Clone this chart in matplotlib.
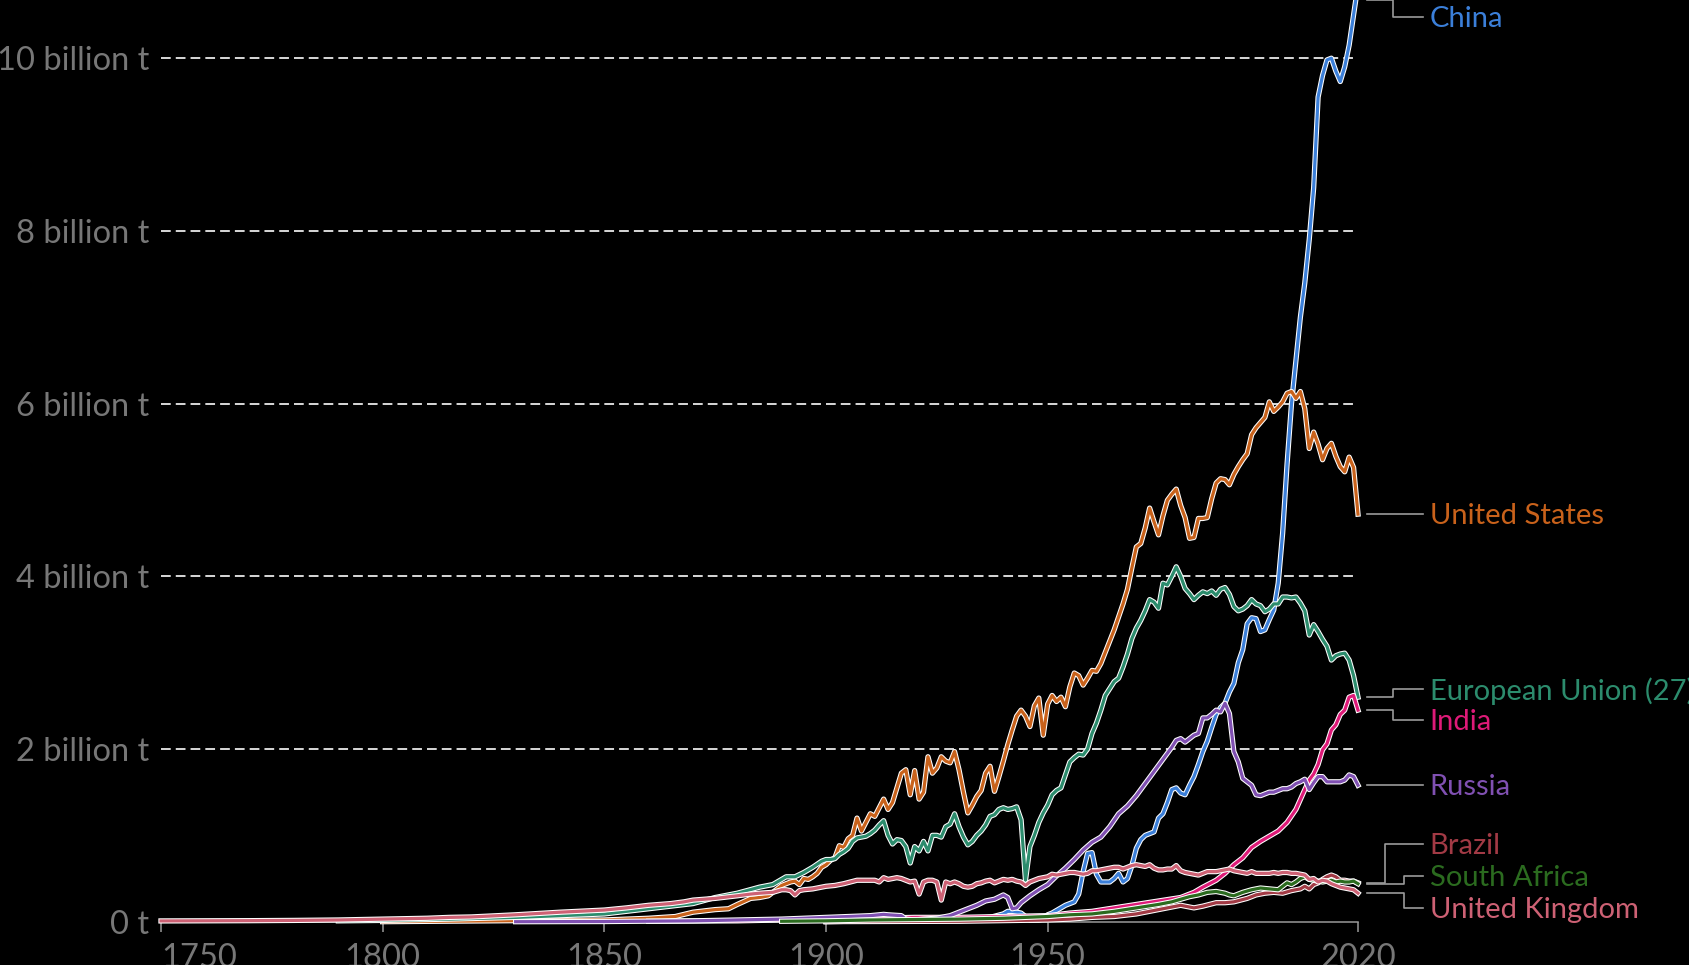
import matplotlib
matplotlib.use("Agg")
import matplotlib.pyplot as plt
import matplotlib.patheffects as pe

plt.rcParams['font.family'] = ['Lato', 'DejaVu Sans']

# annual CO2 emissions, billion tonnes
china_years = [1900, 1910, 1920, 1930, 1937, 1940, 1941, 1942, 1943, 1944, 1945, 1946, 1947, 1948, 1949,
               1950, 1951, 1952, 1953, 1954, 1955, 1956, 1957, 1958, 1959, 1960, 1961, 1962, 1963, 1964,
               1965, 1966, 1967, 1968, 1969, 1970, 1971, 1972, 1973, 1974, 1975, 1976, 1977, 1978, 1979,
               1980, 1981, 1982, 1983, 1984, 1985, 1986, 1987, 1988, 1989, 1990, 1991, 1992, 1993, 1994,
               1995, 1996, 1997, 1998, 1999, 2000, 2001, 2002, 2003, 2004, 2005, 2006, 2007, 2008, 2009,
               2010, 2011, 2012, 2013, 2014, 2015, 2016, 2017, 2018, 2019, 2020]
china = [0.0, 0.01, 0.02, 0.03, 0.05, 0.09, 0.12, 0.12, 0.11, 0.10, 0.06, 0.02, 0.02, 0.02, 0.03,
         0.08, 0.10, 0.13, 0.16, 0.19, 0.21, 0.23, 0.32, 0.58, 0.79, 0.80, 0.55, 0.46, 0.46, 0.46,
         0.50, 0.56, 0.46, 0.50, 0.65, 0.85, 0.95, 1.00, 1.02, 1.04, 1.20, 1.25, 1.38, 1.53, 1.55,
         1.49, 1.47, 1.58, 1.68, 1.82, 1.97, 2.09, 2.25, 2.40, 2.48, 2.53, 2.66, 2.76, 3.00, 3.15,
         3.45, 3.52, 3.51, 3.36, 3.38, 3.50, 3.61, 3.92, 4.50, 5.30, 6.00, 6.50, 7.00, 7.40, 7.90,
         8.50, 9.55, 9.80, 9.98, 10.00, 9.85, 9.73, 9.90, 10.15, 10.50, 10.85]

us_years = [1800, 1850, 1860, 1866, 1870, 1875, 1878, 1880, 1883, 1885, 1887, 1890, 1892, 1893, 1894,
            1895, 1896, 1897, 1898, 1899, 1900, 1901, 1902, 1903, 1904, 1905, 1906, 1907, 1908, 1909,
            1910, 1911, 1912, 1913, 1914, 1915, 1916, 1917, 1918, 1919, 1920, 1921, 1922, 1923, 1924,
            1925, 1926, 1927, 1928, 1929, 1930, 1931, 1932, 1933, 1934, 1935, 1936, 1937, 1938, 1939,
            1940, 1941, 1942, 1943, 1944, 1945, 1946, 1947, 1948, 1949, 1950, 1951, 1952, 1953, 1954,
            1955, 1956, 1957, 1958, 1959, 1960, 1961, 1962, 1963, 1964, 1965, 1966, 1967, 1968, 1969,
            1970, 1971, 1972, 1973, 1974, 1975, 1976, 1977, 1978, 1979, 1980, 1981, 1982, 1983, 1984,
            1985, 1986, 1987, 1988, 1989, 1990, 1991, 1992, 1993, 1994, 1995, 1996, 1997, 1998, 1999,
            2000, 2001, 2002, 2003, 2004, 2005, 2006, 2007, 2008, 2009, 2010, 2011, 2012, 2013, 2014,
            2015, 2016, 2017, 2018, 2019, 2020]
us = [0.0002, 0.02, 0.04, 0.06, 0.11, 0.14, 0.15, 0.20, 0.27, 0.28, 0.30, 0.42, 0.46, 0.47, 0.43,
      0.50, 0.49, 0.52, 0.56, 0.63, 0.66, 0.71, 0.74, 0.88, 0.86, 0.96, 1.00, 1.20, 1.05, 1.15,
      1.25, 1.22, 1.32, 1.42, 1.30, 1.38, 1.55, 1.72, 1.76, 1.47, 1.75, 1.42, 1.50, 1.91, 1.72,
      1.78, 1.91, 1.86, 1.84, 1.97, 1.76, 1.50, 1.26, 1.35, 1.45, 1.52, 1.72, 1.80, 1.51, 1.68,
      1.86, 2.05, 2.22, 2.38, 2.45, 2.38, 2.26, 2.50, 2.59, 2.16, 2.52, 2.62, 2.55, 2.60, 2.49,
      2.72, 2.88, 2.85, 2.74, 2.82, 2.91, 2.90, 2.99, 3.12, 3.25, 3.38, 3.53, 3.68, 3.85, 4.10,
      4.34, 4.38, 4.56, 4.79, 4.63, 4.48, 4.70, 4.88, 4.95, 5.01, 4.82, 4.68, 4.44, 4.45, 4.67,
      4.67, 4.68, 4.90, 5.08, 5.13, 5.12, 5.06, 5.18, 5.27, 5.35, 5.42, 5.64, 5.72, 5.78, 5.84,
      6.02, 5.91, 5.96, 6.02, 6.12, 6.14, 6.06, 6.14, 5.94, 5.48, 5.67, 5.53, 5.35, 5.48, 5.54,
      5.39, 5.27, 5.21, 5.38, 5.26, 4.72]

eu_years = [1790, 1800, 1815, 1830, 1840, 1850, 1855, 1860, 1865, 1870, 1875, 1880, 1885, 1888, 1891,
            1893, 1895, 1897, 1899, 1900, 1901, 1902, 1903, 1904, 1905, 1906, 1907, 1908, 1909, 1910,
            1911, 1912, 1913, 1914, 1915, 1916, 1917, 1918, 1919, 1920, 1921, 1922, 1923, 1924, 1925,
            1926, 1927, 1928, 1929, 1930, 1931, 1932, 1933, 1934, 1935, 1936, 1937, 1938, 1939, 1940,
            1941, 1942, 1943, 1944, 1945, 1946, 1947, 1948, 1949, 1950, 1951, 1952, 1953, 1954, 1955,
            1956, 1957, 1958, 1959, 1960, 1961, 1962, 1963, 1964, 1965, 1966, 1967, 1968, 1969, 1970,
            1971, 1972, 1973, 1974, 1975, 1976, 1977, 1978, 1979, 1980, 1981, 1982, 1983, 1984, 1985,
            1986, 1987, 1988, 1989, 1990, 1991, 1992, 1993, 1994, 1995, 1996, 1997, 1998, 1999, 2000,
            2001, 2002, 2003, 2004, 2005, 2006, 2007, 2008, 2009, 2010, 2011, 2012, 2013, 2014, 2015,
            2016, 2017, 2018, 2019, 2020]
eu = [0.01, 0.015, 0.03, 0.05, 0.07, 0.09, 0.12, 0.15, 0.18, 0.21, 0.28, 0.33, 0.40, 0.43, 0.52,
      0.52, 0.57, 0.63, 0.70, 0.72, 0.72, 0.73, 0.78, 0.81, 0.85, 0.93, 0.97, 0.98, 0.99, 1.02,
      1.06, 1.12, 1.17, 1.00, 0.90, 0.95, 0.94, 0.87, 0.68, 0.87, 0.82, 0.93, 0.82, 1.00, 1.00,
      0.98, 1.10, 1.13, 1.25, 1.10, 0.98, 0.89, 0.93, 1.00, 1.05, 1.12, 1.22, 1.24, 1.30, 1.32,
      1.30, 1.31, 1.33, 1.18, 0.48, 0.87, 1.00, 1.15, 1.26, 1.35, 1.47, 1.52, 1.55, 1.70, 1.85,
      1.90, 1.94, 1.93, 2.00, 2.18, 2.30, 2.45, 2.62, 2.70, 2.78, 2.82, 2.95, 3.10, 3.28, 3.40,
      3.49, 3.60, 3.73, 3.70, 3.63, 3.92, 3.90, 4.00, 4.11, 4.00, 3.86, 3.80, 3.73, 3.78, 3.82,
      3.80, 3.83, 3.78, 3.85, 3.87, 3.79, 3.65, 3.60, 3.62, 3.66, 3.73, 3.68, 3.66, 3.59, 3.62,
      3.68, 3.68, 3.76, 3.76, 3.75, 3.76, 3.69, 3.60, 3.32, 3.44, 3.36, 3.27, 3.19, 3.03, 3.08,
      3.10, 3.11, 3.03, 2.85, 2.60]

india_years = [1860, 1880, 1900, 1910, 1920, 1930, 1940, 1950, 1955, 1960, 1965, 1970, 1975, 1980, 1983,
               1985, 1988, 1990, 1992, 1994, 1996, 1998, 2000, 2002, 2004, 2006, 2008, 2009, 2010, 2011,
               2012, 2013, 2014, 2015, 2016, 2017, 2018, 2019, 2020]
india = [0.005, 0.01, 0.03, 0.04, 0.05, 0.05, 0.06, 0.07, 0.10, 0.12, 0.16, 0.20, 0.24, 0.28, 0.34,
         0.40, 0.48, 0.56, 0.66, 0.74, 0.86, 0.93, 0.99, 1.05, 1.15, 1.30, 1.53, 1.64, 1.71, 1.82,
         1.99, 2.06, 2.22, 2.28, 2.40, 2.45, 2.60, 2.62, 2.45]

russia_years = [1830, 1850, 1870, 1880, 1890, 1900, 1905, 1910, 1913, 1914, 1917, 1918, 1920, 1922, 1925,
                1928, 1930, 1932, 1934, 1936, 1938, 1940, 1941, 1942, 1943, 1944, 1945, 1946, 1948, 1950,
                1952, 1954, 1956, 1958, 1960, 1962, 1964, 1966, 1968, 1970, 1972, 1974, 1976, 1978, 1979,
                1980, 1981, 1982, 1983, 1984, 1985, 1986, 1987, 1988, 1989, 1990, 1991, 1992, 1993, 1994,
                1995, 1996, 1997, 1998, 1999, 2000, 2001, 2002, 2003, 2004, 2005, 2006, 2007, 2008, 2009,
                2010, 2011, 2012, 2013, 2014, 2015, 2016, 2017, 2018, 2019, 2020]
russia = [0.0, 0.002, 0.01, 0.02, 0.03, 0.05, 0.06, 0.07, 0.085, 0.08, 0.07, 0.03, 0.02, 0.03, 0.04,
          0.07, 0.11, 0.15, 0.19, 0.24, 0.26, 0.31, 0.28, 0.15, 0.16, 0.22, 0.26, 0.30, 0.37, 0.43,
          0.53, 0.62, 0.72, 0.83, 0.92, 0.98, 1.10, 1.25, 1.34, 1.46, 1.60, 1.74, 1.88, 2.02, 2.10,
          2.12, 2.08, 2.12, 2.16, 2.18, 2.36, 2.36, 2.40, 2.45, 2.43, 2.53, 2.41, 1.97, 1.85, 1.66,
          1.62, 1.58, 1.47, 1.46, 1.48, 1.50, 1.50, 1.52, 1.54, 1.54, 1.56, 1.60, 1.62, 1.65, 1.53,
          1.61, 1.68, 1.68, 1.62, 1.62, 1.62, 1.62, 1.64, 1.70, 1.68, 1.58]

brazil_years = [1900, 1930, 1950, 1955, 1960, 1965, 1970, 1974, 1977, 1980, 1983, 1985, 1988, 1990, 1992,
                1995, 1997, 1999, 2001, 2003, 2005, 2007, 2008, 2009, 2010, 2011, 2012, 2013, 2014, 2015,
                2016, 2017, 2018, 2019, 2020]
brazil = [0.001, 0.005, 0.02, 0.03, 0.05, 0.06, 0.09, 0.13, 0.16, 0.19, 0.16, 0.18, 0.22, 0.22, 0.23,
          0.27, 0.31, 0.33, 0.34, 0.33, 0.36, 0.38, 0.41, 0.38, 0.43, 0.45, 0.49, 0.52, 0.54, 0.52,
          0.48, 0.48, 0.47, 0.47, 0.45]

safrica_years = [1890, 1900, 1910, 1920, 1930, 1940, 1950, 1955, 1960, 1965, 1970, 1975, 1978, 1980, 1982,
                 1984, 1986, 1988, 1990, 1991, 1992, 1994, 1996, 1998, 2000, 2002, 2003, 2004, 2005, 2006,
                 2007, 2008, 2009, 2010, 2011, 2012, 2013, 2014, 2015, 2016, 2017, 2018, 2019, 2020]
safrica = [0.005, 0.01, 0.02, 0.025, 0.03, 0.04, 0.06, 0.08, 0.09, 0.12, 0.16, 0.20, 0.23, 0.26, 0.29,
           0.31, 0.34, 0.35, 0.33, 0.31, 0.30, 0.34, 0.37, 0.39, 0.38, 0.37, 0.41, 0.45, 0.43, 0.46,
           0.50, 0.52, 0.49, 0.48, 0.47, 0.46, 0.47, 0.48, 0.46, 0.47, 0.46, 0.46, 0.47, 0.44]

uk_years = [1750, 1760, 1770, 1780, 1790, 1800, 1810, 1815, 1820, 1830, 1840, 1850, 1855, 1860, 1865,
            1868, 1870, 1875, 1880, 1883, 1885, 1888, 1890, 1891, 1892, 1893, 1894, 1895, 1897, 1900,
            1902, 1904, 1907, 1910, 1911, 1912, 1913, 1914, 1915, 1916, 1917, 1918, 1919, 1920, 1921,
            1922, 1923, 1924, 1925, 1926, 1927, 1928, 1929, 1930, 1931, 1932, 1933, 1934, 1935, 1936,
            1937, 1938, 1939, 1940, 1941, 1942, 1943, 1944, 1945, 1946, 1947, 1948, 1949, 1950, 1951,
            1952, 1953, 1954, 1955, 1956, 1957, 1958, 1959, 1960, 1961, 1962, 1963, 1964, 1965, 1966,
            1967, 1968, 1969, 1970, 1971, 1972, 1973, 1974, 1975, 1976, 1977, 1978, 1979, 1980, 1981,
            1982, 1983, 1984, 1985, 1986, 1987, 1988, 1989, 1990, 1991, 1992, 1993, 1994, 1995, 1996,
            1997, 1998, 1999, 2000, 2001, 2002, 2003, 2004, 2005, 2006, 2007, 2008, 2009, 2010, 2011,
            2012, 2013, 2014, 2015, 2016, 2017, 2018, 2019, 2020]
uk = [0.009, 0.01, 0.012, 0.015, 0.02, 0.03, 0.04, 0.05, 0.055, 0.08, 0.11, 0.135, 0.16, 0.19, 0.21,
      0.23, 0.25, 0.27, 0.30, 0.32, 0.33, 0.34, 0.37, 0.37, 0.36, 0.31, 0.36, 0.37, 0.38, 0.41,
      0.42, 0.44, 0.48, 0.48, 0.48, 0.46, 0.51, 0.49, 0.50, 0.51, 0.50, 0.48, 0.46, 0.47, 0.32,
      0.46, 0.48, 0.48, 0.46, 0.25, 0.46, 0.44, 0.46, 0.44, 0.41, 0.40, 0.41, 0.44, 0.45, 0.47,
      0.48, 0.45, 0.47, 0.49, 0.48, 0.49, 0.47, 0.46, 0.42, 0.46, 0.48, 0.50, 0.51, 0.52, 0.55,
      0.54, 0.55, 0.56, 0.57, 0.57, 0.56, 0.55, 0.56, 0.59, 0.59, 0.60, 0.61, 0.62, 0.63, 0.63,
      0.61, 0.63, 0.65, 0.66, 0.65, 0.64, 0.66, 0.62, 0.60, 0.60, 0.61, 0.61, 0.65, 0.59, 0.57,
      0.56, 0.55, 0.54, 0.56, 0.58, 0.58, 0.58, 0.59, 0.60, 0.61, 0.59, 0.58, 0.57, 0.56, 0.58,
      0.56, 0.56, 0.56, 0.56, 0.57, 0.56, 0.57, 0.57, 0.56, 0.56, 0.55, 0.54, 0.49, 0.50, 0.46,
      0.48, 0.47, 0.44, 0.42, 0.40, 0.39, 0.38, 0.37, 0.33]

names = ["China", "United States", "European Union (27)", "India", "Russia",
         "Brazil", "South Africa", "United Kingdom"]
series_years = [china_years, us_years, eu_years, india_years, russia_years,
                brazil_years, safrica_years, uk_years]
series_vals = [china, us, eu, india, russia, brazil, safrica, uk]
colors = ["#3b7fd9", "#c9621b", "#2c8c6d", "#de1a78", "#8050b2",
          "#a23a45", "#2b6b1f", "#cd6174"]

ytick_vals = [0, 2, 4, 6, 8, 10]
ytick_labels = ["0 t", "2 billion t", "4 billion t", "6 billion t", "8 billion t", "10 billion t"]
xtick_vals = [1750, 1800, 1850, 1900, 1950, 2020]

# label layout: text y (billion t) and elbow x (year units beyond the axis)
label_y = [10.48, 4.72, 2.69, 2.34, 1.58, 0.90, 0.53, 0.16]
elbow_x = [2028, 2028, 2028, 2028, 2028, 2026, 2030.3, 2030.3]

W, H = 1690, 969
x0, x1 = 161, 1358
y0 = 921.7
ppb = 86.35  # pixels per billion

fig = plt.figure(figsize=(W / 100, H / 100), dpi=100, facecolor="black")
ax = fig.add_axes([x0 / W, (H - y0) / H, (x1 - x0) / W, y0 / H])
ax.set_facecolor("black")
ymax = y0 / ppb
ax.set_xlim(1750, 2020)
ax.set_ylim(0, ymax)

grey = "#777777"
for v in ytick_vals[1:]:
    ax.axhline(v, color="#d8d8d8", lw=1.4, dashes=(5, 2.6), zorder=1)

for yrs, vals, c in zip(series_years, series_vals, colors):
    ax.plot(yrs, vals, color=c, lw=2.3, zorder=3, clip_on=False,
            solid_joinstyle="round",
            path_effects=[pe.Stroke(linewidth=3.8, foreground="white"), pe.Normal()])

for sp in ["left", "right", "top"]:
    ax.spines[sp].set_visible(False)
ax.spines["bottom"].set_color("#999999")
ax.spines["bottom"].set_linewidth(1.1)

ax.set_yticks(ytick_vals)
ax.set_yticklabels(ytick_labels)
ax.tick_params(axis="y", length=0, pad=8.5, labelsize=23.5, labelcolor=grey)
ax.set_xticks(xtick_vals)
ax.tick_params(axis="x", length=7.2, width=1.1, color="#999999", pad=8,
               labelsize=23.5, labelcolor=grey)
ax.get_xticklabels()[0].set_horizontalalignment("left")

# end labels with elbow connectors
x_start = 2021.96
x_end = 2034.7
x_text = 2036.2
for name, vals, c, ly, ex in zip(names, series_vals, colors, label_y, elbow_x):
    ey = min(vals[-1], ymax)
    ax.plot([x_start, ex, ex, x_end], [ey, ey, ly, ly], color="#9a9a9a", lw=1.2,
            clip_on=False, zorder=2)
    ax.text(x_text, ly - 0.025, name, color=c, fontsize=21, va="center", ha="left",
            clip_on=False)

# thin white strip at the bottom edge
fig.patches.append(plt.Rectangle((0, 0), 1, 4 / H, transform=fig.transFigure,
                                 facecolor="white", edgecolor="none", zorder=10))

fig.savefig("out.png", dpi=100, facecolor="black")
